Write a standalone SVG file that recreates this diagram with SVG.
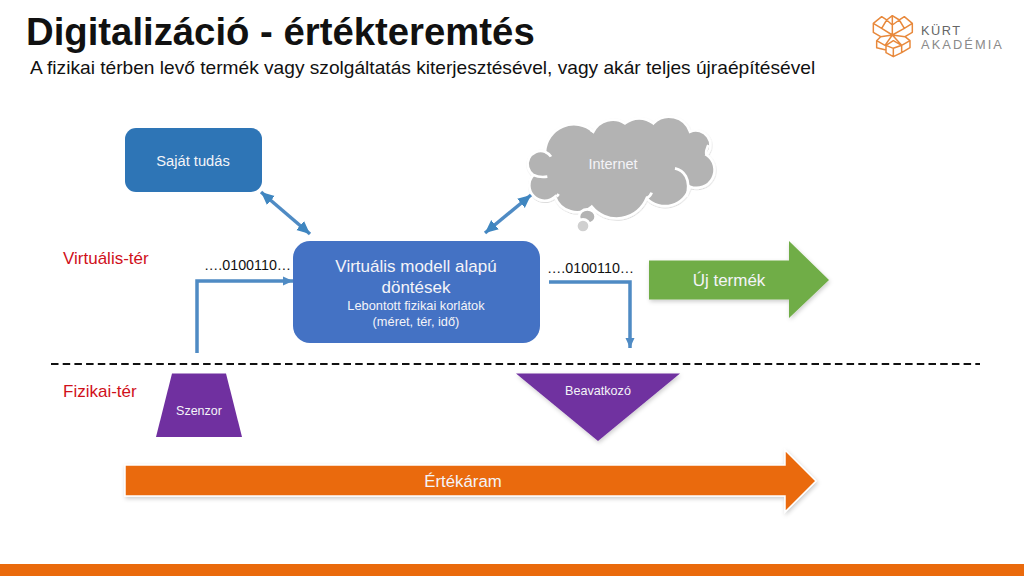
<svg xmlns="http://www.w3.org/2000/svg" width="1024" height="576" viewBox="0 0 1024 576">
<style>
text{font-family:"Liberation Sans",Arial,sans-serif}
.w{fill:#f4f4f8}
.m{text-anchor:middle}
.r{fill:#d0101a;font-size:17px}
.c{fill:none;stroke:#4f8bc4;stroke-width:3.500}
.b{fill:#111;font-size:14.300px}
.logo{fill:none;stroke:#e8893c;stroke-width:4.500;stroke-linejoin:round}
</style>
<defs>
<marker id="ah" markerUnits="userSpaceOnUse" markerWidth="12" markerHeight="12" refX="10" refY="5" orient="auto-start-reverse"><path d="M0 0.500L10 5L0 9.500Z" fill="#4f8bc4"/></marker>
<marker id="ahb" markerUnits="userSpaceOnUse" markerWidth="14" markerHeight="14" refX="13" refY="6" orient="auto-start-reverse"><path d="M0 0L13 6L0 12Z" fill="#3f86c0"/></marker>
<filter id="sh" x="-10%" y="-10%" width="120%" height="125%"><feDropShadow dx="1" dy="2" stdDeviation="2" flood-color="#000" flood-opacity=".2"/></filter>
</defs>
<rect width="1024" height="576" fill="#fff"/>
<rect y="564" width="1024" height="12" fill="#ea6a0c"/>
<text x="26" y="45" font-size="38.300" font-weight="bold" fill="#111">Digitalizáció - értékteremtés</text>
<text x="30" y="74" font-size="19.150" fill="#111">A fizikai térben levő termék vagy szolgáltatás kiterjesztésével, vagy akár teljes újraépítésével</text>
<g id="logo">
<path class="logo" transform="translate(860 0) scale(.3333)" d="M40 70L65 50L80 60L97 47L118 60L133 50L157 70V97L135 110L150 122V143L125 158L100 170L78 158V150L50 143V122L62 110L40 97ZM40 70L65 85L97 105L133 85L157 70M80 60L65 85M118 60L133 85M80 60L97 75L118 60M97 47V75M97 75V105M62 110L97 105L135 110M50 122L75 136L97 105L125 136L150 122M78 158V136L100 122L125 136V158M100 170V145L78 136M100 145L125 136"/>
<text x="921" y="34.500" font-size="12.800" fill="#666" letter-spacing="1.500">KÜRT</text>
<text x="921" y="49" font-size="12.800" fill="#8a8a8a" letter-spacing="2.100">AKADÉMIA</text>
</g>
<g id="saj">
<rect x="125" y="128" width="137" height="64" rx="11" fill="#2e75b6"/>
<text x="193" y="166" font-size="14.700" class="w m">Saját tudás</text>
</g>
<g id="internet">
<g transform="translate(470 100) scale(.3333)" fill="#b3b3b3" stroke="#fff" stroke-width="8">
<path filter="url(#sh)" d="M190 225A39.500 39.500 0 0 1 225 155A87 87 0 0 1 370 95A66 66 0 0 1 465 70A68 68 0 0 1 550 70A66 66 0 0 1 660 95A44 44 0 0 1 710 165A54 54 0 0 1 660 260A77 77 0 0 1 530 295A97 97 0 0 1 365 320A69 69 0 0 1 255 290A46 46 0 0 1 190 225Z"/>
<path fill="none" d="M190 225C205 232 218 232 232 230M225 155C232 158 240 165 243 170M370 95C366 92 364 90 360 90M260 290C262 287 264 285 266 282M530 295C538 290 543 285 545 278M615 205C640 210 665 235 650 290M710 165C705 155 712 145 715 135"/>
<ellipse cx="352" cy="350" rx="25" ry="22" fill="#b3b3b3"/>
<circle cx="339" cy="378" r="20" fill="#d0d0d0"/>
</g>
<text x="613" y="169" font-size="14.500" class="w m">Internet</text>
</g>
<g id="modell">
<rect x="293" y="241" width="247" height="102" rx="17" fill="#4472c4"/>
<text x="416" y="272" font-size="17" class="w m">Virtuális modell alapú</text>
<text x="416" y="293" font-size="17" class="w m">döntések</text>
<text x="416" y="310" font-size="12.800" class="w m">Lebontott fizikai korlátok</text>
<text x="416" y="326" font-size="12.800" class="w m">(méret, tér, idő)</text>
</g>
<g id="uj">
<path filter="url(#sh)" fill="#70ad47" d="M649 260.500H789V241L829 280L789 318V299.500H649Z"/>
<text x="729" y="286" font-size="17" class="w m">Új termék</text>
</g>
<g id="szenzor">
<path fill="#7030a0" d="M172 373.500H226L242 437H156Z"/>
<text x="199" y="415" font-size="12.500" class="w m">Szenzor</text>
</g>
<g id="beavatkozo">
<path filter="url(#sh)" fill="#7030a0" d="M516 373.500H680L598 441Z"/>
<text x="598" y="395" font-size="12.600" class="w m">Beavatkozó</text>
</g>
<g id="ertek">
<path filter="url(#sh)" fill="#ea6a0c" stroke="#fff" stroke-width="1.500" d="M125 465H785V450L816 481L785 512V496H125Z"/>
<text x="463" y="487" font-size="16.800" class="w m">Értékáram</text>
</g>
<g id="labels">
<text x="63" y="264" class="r">Virtuális-tér</text>
<text x="63" y="397" class="r">Fizikai-tér</text>
<text x="204" y="270" class="b">….0100110…</text>
<text x="547" y="273" class="b">….0100110…</text>
</g>
<g id="connectors">
<path class="c" d="M261 192L310 234" marker-start="url(#ahb)" marker-end="url(#ahb)"/>
<path class="c" d="M485 233L531 195" marker-start="url(#ahb)" marker-end="url(#ahb)"/>
<path class="c" stroke-width="4" d="M197 353V281H293" marker-end="url(#ah)"/>
<path class="c" stroke-width="3" d="M549 282H630V348" marker-end="url(#ah)"/>
<path d="M51 364H980" fill="none" stroke="#111" stroke-width="2" stroke-dasharray="7.500 4.200"/>
</g>
</svg>
